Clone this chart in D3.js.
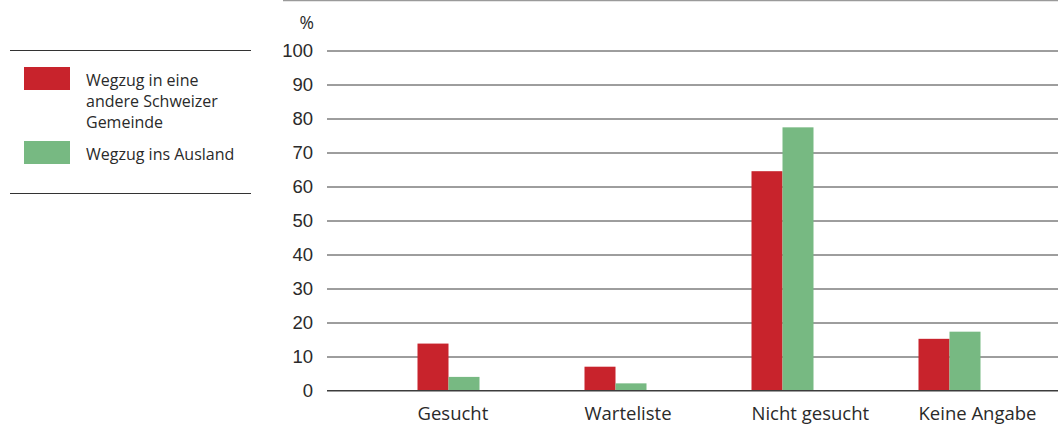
<!DOCTYPE html>
<html>
<head>
<meta charset="utf-8">
<script src="https://cdn.jsdelivr.net/npm/d3@7"></script>
<style>
  html, body { margin: 0; padding: 0; background: #fff; }
  svg { display: block; font-family: "Open Sans", "Noto Sans", sans-serif; }
</style>
</head>
<body>
<svg id="chart" width="1058" height="425"></svg>
<script>
// Wohnungssuche vor dem Wegzug, Anteile in %
const categories = ["Gesucht", "Warteliste", "Nicht gesucht", "Keine Angabe"];
const seriesNames = ["Wegzug in eine andere Schweizer Gemeinde", "Wegzug ins Ausland"];
const legendLines = [["Wegzug in eine", "andere Schweizer", "Gemeinde"], ["Wegzug ins Ausland"]];
const valuesSchweiz = [13.8, 7.0, 64.5, 15.2];
const valuesAusland = [4.0, 2.1, 77.4, 17.3];
const yTicks = [0, 10, 20, 30, 40, 50, 60, 70, 80, 90, 100];
const colors = ["#c8232c", "#77b982"];

const svg = d3.select("#chart");

const plotLeft = 327, plotRight = 1058;
const y = d3.scaleLinear().domain([0, 100]).range([390.5, 50.5]);
const x = d3.scaleBand().domain(categories).range([365, 1033]).paddingInner(0).paddingOuter(0);
const barW = 31;
const xSeries = d3.scaleBand().domain(seriesNames).range([0, barW * 2]);

// top rule
svg.append("line")
  .attr("x1", 283).attr("x2", 1058).attr("y1", 0.5).attr("y2", 0.5)
  .attr("stroke", "#9a9a9a").attr("stroke-width", 1.5);

// y axis gridlines with labels
const yAxis = d3.axisLeft(y).tickValues(yTicks)
  .tickSize(-(plotRight - plotLeft)).tickPadding(14).tickFormat(d3.format("d"));
const gy = svg.append("g").attr("transform", `translate(${plotLeft},0)`).call(yAxis);
gy.select(".domain").remove();
gy.selectAll(".tick line").attr("stroke", "#3c3c3c").attr("stroke-width", 1);
gy.selectAll(".tick text").attr("fill", "#2a2a2a").attr("font-size", 18.5);

svg.append("text").attr("x", 314).attr("y", 29).attr("text-anchor", "end")
  .attr("font-size", 17.5).attr("fill", "#2a2a2a").text("%");

// bars
const data = categories.map((c, i) => ({ cat: c, vals: [valuesSchweiz[i], valuesAusland[i]] }));
const groups = svg.append("g").selectAll("g").data(data).join("g")
  .attr("transform", d => `translate(${x(d.cat) + x.bandwidth() / 2 - barW},0)`);
groups.selectAll("rect")
  .data(d => d.vals.map((v, k) => ({ name: seriesNames[k], v, k })))
  .join("rect")
  .attr("x", d => xSeries(d.name))
  .attr("width", xSeries.bandwidth())
  .attr("y", d => y(d.v))
  .attr("height", d => y(0) - y(d.v))
  .attr("fill", d => colors[d.k]);

// baseline above bars
svg.append("line").attr("x1", plotLeft).attr("x2", plotRight)
  .attr("y1", y(0)).attr("y2", y(0)).attr("stroke", "#3c3c3c");

// category labels, left-aligned with each group
svg.append("g").selectAll("text").data(categories).join("text")
  .attr("x", d => x(d) + x.bandwidth() / 2 - barW)
  .attr("y", 420)
  .attr("font-size", 18.5)
  .attr("fill", "#2a2a2a")
  .text(d => d);

// legend
const lg = svg.append("g");
lg.append("line").attr("x1", 10).attr("x2", 251).attr("y1", 50.5).attr("y2", 50.5).attr("stroke", "#333");
lg.append("line").attr("x1", 10).attr("x2", 251).attr("y1", 193.5).attr("y2", 193.5).attr("stroke", "#333");
const legendY = [67, 141];
legendLines.forEach((lines, i) => {
  lg.append("rect").attr("x", 24).attr("y", legendY[i]).attr("width", 46).attr("height", 23).attr("fill", colors[i]);
  const t = lg.append("text").attr("x", 86).attr("y", legendY[i] + 19)
    .attr("font-size", 16).attr("fill", "#2a2a2a");
  lines.forEach((ln, j) => {
    t.append("tspan").attr("x", 86).attr("dy", j === 0 ? 0 : 21).text(ln);
  });
});
</script>
</body>
</html>
